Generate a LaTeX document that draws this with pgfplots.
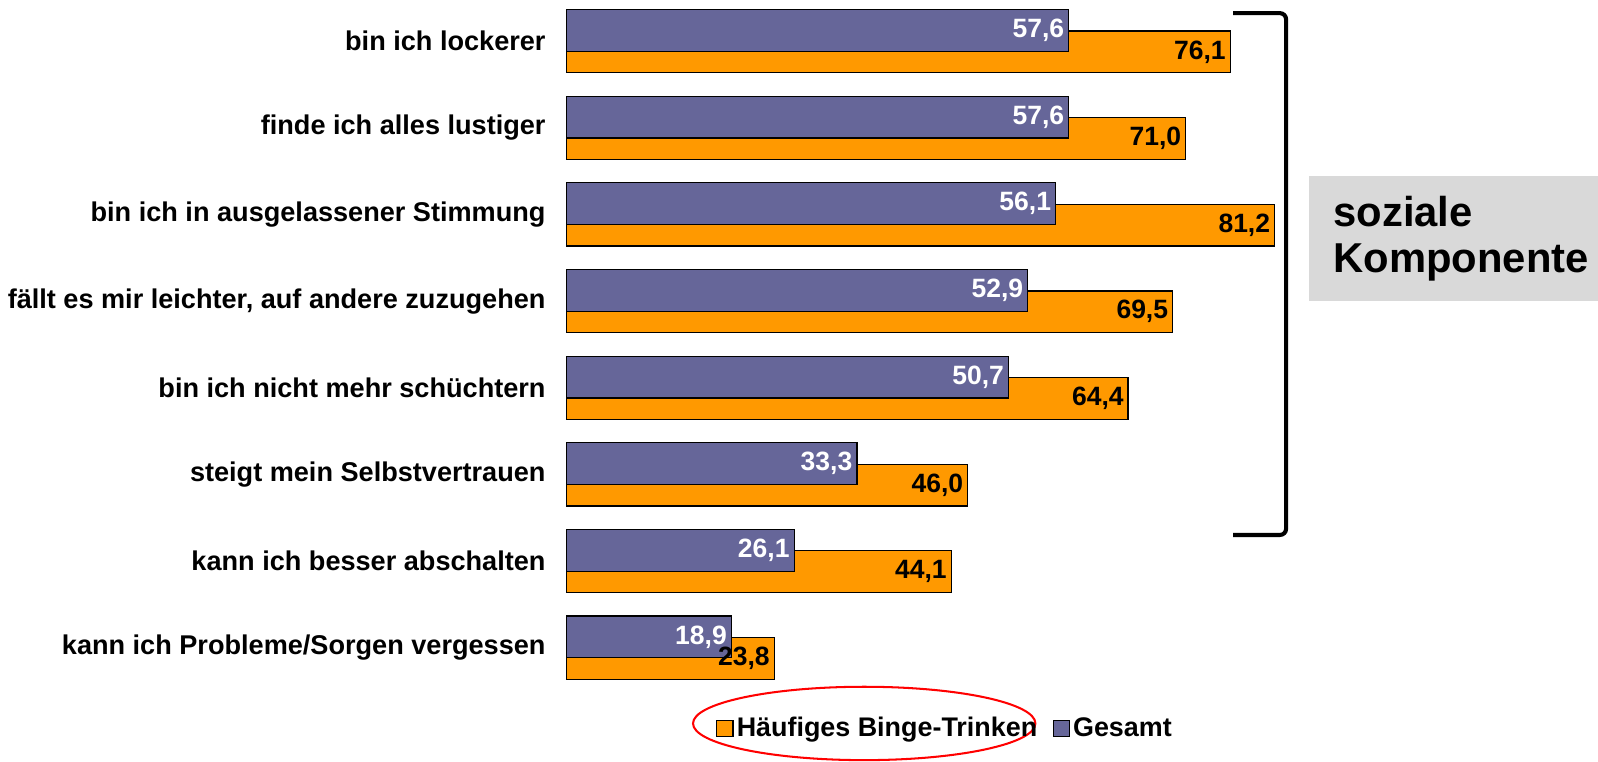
\documentclass[border=0pt]{standalone}
\usepackage{fontspec}
\setmainfont{Liberation Sans}
\usepackage{pgfplots}
\pgfplotsset{compat=1.18}
\definecolor{gesamt}{HTML}{666699}
\definecolor{binge}{HTML}{FF9900}
\definecolor{boxgray}{HTML}{D9D9D9}
\begin{document}
\begin{tikzpicture}
\begin{axis}[
  x=4.2775pt, y=42.5pt,
  xmin=-65, xmax=118.3, ymin=-1.3, ymax=7.476,
  hide axis, clip=false,
  xbar, bar width=20.5pt,
  point meta=x,
  every node near coord/.append style={anchor=east, inner sep=0pt, xshift=-2pt, font=\fontsize{13}{15}\selectfont\bfseries},
  nodes near coords={\pgfmathprintnumber[fixed,fixed zerofill,precision=1,use comma,assume math mode=true]{\pgfplotspointmeta}},
  legend image code/.code={\draw[#1,draw=black,line width=0.6pt] (0pt,-4pt) rectangle (8pt,4pt);},
  legend style={at={(axis cs:16.4,-0.935)}, anchor=west, draw=none, fill=none,
    legend columns=2, font=\fontsize{13.2}{15}\selectfont\bfseries,
    nodes={inner xsep=1.5pt}, /tikz/every even column/.append style={column sep=6pt}},
]
\addplot[fill=binge, draw=black, line width=0.6pt, bar shift=-5.25pt, nodes near coords={}] coordinates {
  (76.1,7) (71.0,6) (81.2,5) (69.5,4) (64.4,3) (46.0,2) (44.1,1) (23.8,0)};
\addplot[fill=gesamt, draw=black, line width=0.6pt, bar shift=5.25pt,
  every node near coord/.append style={text=white}] coordinates {
  (57.6,7) (57.6,6) (56.1,5) (52.9,4) (50.7,3) (33.3,2) (26.1,1) (18.9,0)};
\addplot[draw=none, fill=none, bar shift=-5.25pt, forget plot,
  every node near coord/.append style={text=black}] coordinates {
  (76.1,7) (71.0,6) (81.2,5) (69.5,4) (64.4,3) (46.0,2) (44.1,1) (23.8,0)};
\legend{Häufiges Binge-Trinken, Gesamt}

\path (axis cs:-65,-1.3) rectangle (axis cs:118.3,7.476);

% category labels
\begin{scope}[every node/.style={anchor=east, font=\fontsize{13.3}{15}\selectfont\bfseries}]
\node at (axis cs:-1.6,7) {bin ich lockerer};
\node at (axis cs:-1.6,6) {finde ich alles lustiger};
\node at (axis cs:-1.6,5) {bin ich in ausgelassener Stimmung};
\node at (axis cs:-1.6,4) {fällt es mir leichter, auf andere zuzugehen};
\node at (axis cs:-1.6,3) {bin ich nicht mehr schüchtern};
\node at (axis cs:-1.6,2) {steigt mein Selbstvertrauen};
\node at (axis cs:-1.6,1) {kann ich besser abschalten};
\node at (axis cs:-1.6,0) {kann ich Probleme/Sorgen vergessen};
\end{scope}

% bracket
\draw[line width=2pt, rounded corners=3pt] (axis cs:76.45,7.324) -- (axis cs:82.52,7.324) -- (axis cs:82.52,1.3) -- (axis cs:76.45,1.3);

% gray box
\fill[boxgray] (axis cs:85.2,5.441) rectangle (axis cs:118.3,4.006);
\node[anchor=west, align=left, inner sep=0pt, font=\fontsize{20.5}{22.5}\selectfont\bfseries] at (axis cs:87.9,4.72) {soziale\\Komponente};

% red ellipse around legend entry
\draw[red, line width=1pt] (axis cs:34.13,-0.876) ellipse [x radius=84pt, y radius=18pt];
\end{axis}
\end{tikzpicture}
\end{document}
